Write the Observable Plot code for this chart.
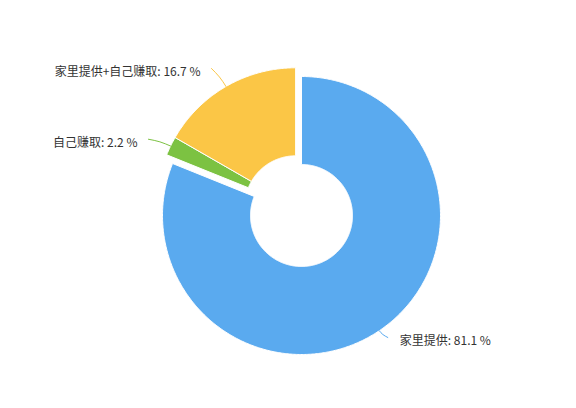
<!DOCTYPE html>
<html><head><meta charset="utf-8">
<script src="https://cdn.jsdelivr.net/npm/d3@7"></script>
<script src="https://cdn.jsdelivr.net/npm/@observablehq/plot@0.6"></script>
<style>body{margin:0;background:#fff;}</style>
</head><body><div id="chart"></div>
<script>
const categories = ["家里提供", "自己赚取", "家里提供+自己赚取"];
const values = [81.1, 2.2, 16.7];
const colors = ["#5aaaef", "#7cc242", "#fbc646"];
const exploded = [false, true, true];

const inner = 0.367;
const pie = d3.pie().sort(null).value(d => d)(values);
const ex = pie.filter((p, i) => exploded[i]);
const exAngle = (d3.min(ex, p => p.startAngle) + d3.max(ex, p => p.endAngle)) / 2;
const exDist = 0.0755;
const offs = pie.map((p, i) => exploded[i] ? [exDist * Math.sin(exAngle), exDist * Math.cos(exAngle)] : [0, 0]);

const slicePts = [];
pie.forEach((p, i) => {
  const n = Math.max(2, Math.ceil((p.endAngle - p.startAngle) / 0.01));
  const [ox, oy] = offs[i];
  const pts = [];
  for (let k = 0; k <= n; k++) {
    const a = p.startAngle + (p.endAngle - p.startAngle) * k / n;
    pts.push({name: categories[i], x: ox + Math.sin(a), y: oy + Math.cos(a)});
  }
  for (let k = n; k >= 0; k--) {
    const a = p.startAngle + (p.endAngle - p.startAngle) * k / n;
    pts.push({name: categories[i], x: ox + inner * Math.sin(a), y: oy + inner * Math.cos(a)});
  }
  pts.push({...pts[0]});
  slicePts.push(...pts);
});

const connPts = [];
const labels = [];
pie.forEach((p, i) => {
  const [ox, oy] = offs[i];
  const mid = (p.startAngle + p.endAngle) / 2;
  const rEnd = exploded[i] ? 1.165 : 1.075;
  const aEnd = mid - 0.022;
  const rMid = (1 + rEnd) / 2;
  const pt = (r, a) => ({name: categories[i], x: ox + r * Math.sin(a), y: oy + r * Math.cos(a)});
  connPts.push(pt(1, mid), pt(rMid, mid - 0.006), pt(rEnd, aEnd));
  const e = pt(rEnd, aEnd);
  const right = Math.sin(mid) >= 0;
  labels.push({...e, right, text: `${categories[i]}: ${values[i]} %`});
});

const chart = Plot.plot({
  width: 576,
  height: 408,
  marginLeft: 162,
  marginRight: 136,
  marginTop: 76,
  marginBottom: 54,
  x: {domain: [-1, 1], axis: null},
  y: {domain: [-1, 1], axis: null},
  color: {domain: categories, range: colors},
  style: {background: "#fff", fontFamily: "'Noto Sans CJK SC', sans-serif", overflow: "visible"},
  marks: [
    Plot.line(slicePts, {x: "x", y: "y", z: "name", fill: "name", stroke: "white", strokeWidth: 1, curve: "linear"}),
    Plot.line(connPts, {x: "x", y: "y", z: "name", stroke: "name", strokeWidth: 1, curve: "natural"}),
    Plot.text(labels.filter(d => d.right), {x: "x", y: "y", text: "text", textAnchor: "start", dx: 12, dy: 4, fontSize: 12, fill: "#333", fontFamily: "'Noto Sans CJK SC', sans-serif"}),
    Plot.text(labels.filter(d => !d.right), {x: "x", y: "y", text: "text", textAnchor: "end", dx: -11, dy: 4, fontSize: 12, fill: "#333", fontFamily: "'Noto Sans CJK SC', sans-serif"})
  ]
});
document.getElementById("chart").appendChild(chart);
</script>
</body></html>
